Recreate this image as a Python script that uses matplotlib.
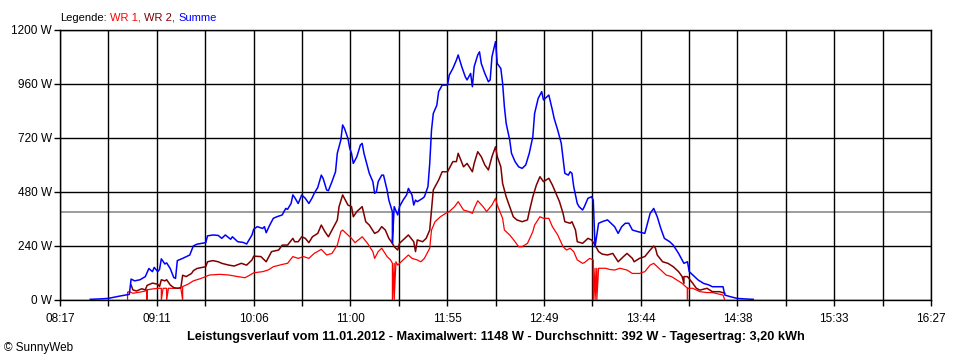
import matplotlib
matplotlib.use("Agg")
import matplotlib.pyplot as plt
from matplotlib.offsetbox import TextArea, HPacker, AnchoredOffsetbox
import numpy as np

plt.rcParams['font.family'] = ['Liberation Sans', 'DejaVu Sans']

# --- Daten ---
sum_time = ["08:34", "08:40", "08:44", "08:51", "08:56", "08:57", "08:59", "09:02", "09:05", "09:07",
            "09:09", "09:10", "09:12", "09:13", "09:14", "09:16", "09:17", "09:19", "09:21", "09:22",
            "09:23", "09:26", "09:30", "09:32", "09:34", "09:39", "09:40", "09:43", "09:46", "09:48",
            "09:50", "09:53", "09:54", "09:57", "10:00", "10:02", "10:05", "10:06", "10:08", "10:11",
            "10:12", "10:13", "10:15", "10:17", "10:19", "10:22", "10:24", "10:25", "10:27", "10:28",
            "10:29", "10:31", "10:33", "10:35", "10:37", "10:39", "10:40", "10:42", "10:44", "10:45",
            "10:47", "10:48", "10:50", "10:52", "10:53", "10:55", "10:56", "10:57", "10:59", "11:00",
            "11:01", "11:02", "11:04", "11:06", "11:07", "11:08", "11:10", "11:11", "11:13", "11:14",
            "11:15", "11:16", "11:18", "11:19", "11:21", "11:22", "11:24", "11:24", "11:25", "11:27",
            "11:28", "11:30", "11:32", "11:33", "11:35", "11:36", "11:37", "11:38", "11:41", "11:42",
            "11:44", "11:45", "11:46", "11:47", "11:49", "11:50", "11:52", "11:55", "11:56", "11:58",
            "12:00", "12:01", "12:03", "12:05", "12:06", "12:08", "12:09", "12:10", "12:12", "12:13",
            "12:14", "12:16", "12:18", "12:19", "12:20", "12:22", "12:23", "12:25", "12:26", "12:27",
            "12:28", "12:30", "12:31", "12:33", "12:35", "12:37", "12:39", "12:41", "12:43", "12:44",
            "12:46", "12:48", "12:49", "12:52", "12:54", "12:55", "12:57", "12:59", "13:01", "13:03",
            "13:04", "13:05", "13:06", "13:08", "13:09", "13:11", "13:12", "13:14", "13:16", "13:17",
            "13:18", "13:20", "13:22", "13:25", "13:28", "13:29", "13:31", "13:33", "13:35", "13:37",
            "13:39", "13:42", "13:46", "13:47", "13:49", "13:51", "13:53", "13:55", "13:57", "14:00",
            "14:02", "14:05", "14:08", "14:10", "14:11", "14:13", "14:16", "14:19", "14:22", "14:24",
            "14:30", "14:31", "14:34", "14:38", "14:44", "14:47"]
sum_watt = [3, 5, 7, 18, 25, 93, 85, 90, 104, 140,
            126, 145, 126, 136, 183, 160, 165, 140, 100, 96,
            175, 185, 200, 240, 248, 255, 285, 289, 287, 274,
            289, 270, 281, 259, 256, 249, 289, 315, 326, 318,
            326, 299, 333, 363, 370, 378, 407, 403, 429, 467,
            456, 429, 467, 452, 429, 456, 474, 500, 555, 541,
            489, 486, 526, 570, 652, 711, 778, 763, 718, 674,
            652, 607, 637, 689, 696, 652, 592, 563, 526, 474,
            481, 526, 555, 555, 489, 444, 392, 252, 415, 378,
            415, 444, 467, 496, 467, 422, 444, 437, 452, 459,
            504, 607, 755, 829, 866, 926, 955, 955, 1000, 1029,
            1066, 1089, 1037, 992, 978, 1007, 948, 1037, 1089, 1103,
            1051, 1007, 970, 978, 1081, 1148, 1051, 1029, 963, 859,
            785, 711, 652, 615, 592, 585, 600, 652, 726, 829,
            896, 926, 889, 911, 844, 807, 755, 696, 563, 555,
            570, 563, 504, 429, 415, 400, 415, 452, 459, 444,
            237, 341, 348, 356, 333, 326, 296, 326, 341, 341,
            311, 304, 296, 326, 385, 407, 370, 318, 274, 259,
            244, 207, 163, 170, 126, 111, 89, 74, 67, 59,
            59, 22, 15, 7, 4, 3]

wr2_time = ["08:57", "08:58", "09:00", "09:03", "09:05", "09:06", "09:09", "09:12", "09:13", "09:14",
            "09:16", "09:17", "09:19", "09:21", "09:23", "09:25", "09:26", "09:28", "09:31", "09:32",
            "09:34", "09:39", "09:40", "09:43", "09:46", "09:48", "09:52", "09:55", "09:59", "10:02",
            "10:05", "10:06", "10:10", "10:12", "10:13", "10:16", "10:20", "10:22", "10:25", "10:28",
            "10:29", "10:31", "10:33", "10:35", "10:37", "10:39", "10:42", "10:44", "10:46", "10:48",
            "10:51", "10:53", "10:54", "10:56", "10:57", "10:59", "11:01", "11:02", "11:04", "11:07",
            "11:09", "11:11", "11:14", "11:16", "11:18", "11:20", "11:22", "11:24", "11:25", "11:27",
            "11:28", "11:31", "11:33", "11:36", "11:37", "11:38", "11:41", "11:43", "11:45", "11:46",
            "11:47", "11:50", "11:52", "11:55", "11:58", "12:00", "12:01", "12:04", "12:06", "12:09",
            "12:10", "12:12", "12:14", "12:16", "12:18", "12:20", "12:22", "12:23", "12:25", "12:26",
            "12:28", "12:30", "12:32", "12:34", "12:37", "12:40", "12:41", "12:43", "12:45", "12:47",
            "12:49", "12:52", "12:54", "12:56", "12:58", "13:00", "13:01", "13:04", "13:05", "13:07",
            "13:08", "13:11", "13:12", "13:14", "13:16", "13:18", "13:20", "13:22", "13:25", "13:28",
            "13:31", "13:34", "13:36", "13:39", "13:40", "13:43", "13:46", "13:49", "13:51", "13:52",
            "13:53", "13:56", "13:59", "14:02", "14:05", "14:07", "14:08", "14:08", "14:10", "14:13",
            "14:15", "14:17", "14:21", "14:24", "14:28", "14:31"]
wr2_watt = [67, 45, 40, 50, 45, 65, 75, 70, 60, 90,
            85, 90, 67, 55, 52, 55, 110, 104, 118, 130,
            140, 148, 170, 175, 170, 163, 155, 151, 163, 155,
            178, 195, 193, 178, 170, 215, 222, 244, 244, 274,
            259, 259, 281, 274, 255, 281, 296, 333, 304, 281,
            326, 355, 415, 467, 452, 422, 415, 370, 393, 415,
            348, 333, 296, 304, 326, 311, 274, 252, 237, 222,
            252, 274, 289, 259, 215, 267, 259, 274, 311, 400,
            489, 533, 570, 570, 615, 615, 652, 592, 607, 570,
            607, 659, 637, 600, 578, 637, 681, 637, 592, 518,
            459, 415, 370, 356, 348, 356, 393, 459, 511, 548,
            526, 541, 511, 474, 437, 385, 348, 341, 348, 311,
            259, 252, 259, 274, 267, 244, 215, 204, 200, 207,
            170, 193, 207, 185, 170, 185, 193, 222, 240, 230,
            200, 170, 163, 148, 126, 104, 74, 104, 104, 74,
            52, 44, 52, 37, 37, 30]

wr1_time = ["08:55", "08:55", "08:56", "08:58", "09:02", "09:05", "09:06", "09:06", "09:06", "09:08",
            "09:12", "09:14", "09:14", "09:15", "09:17", "09:17", "09:18", "09:22", "09:25", "09:26",
            "09:26", "09:29", "09:32", "09:36", "09:39", "09:41", "09:47", "09:52", "09:57", "10:01",
            "10:03", "10:06", "10:11", "10:14", "10:17", "10:22", "10:25", "10:28", "10:31", "10:34",
            "10:37", "10:40", "10:44", "10:47", "10:50", "10:53", "10:55", "10:56", "10:59", "11:01",
            "11:03", "11:07", "11:10", "11:13", "11:14", "11:16", "11:18", "11:21", "11:23", "11:24",
            "11:24", "11:25", "11:25", "11:26", "11:27", "11:30", "11:33", "11:35", "11:38", "11:40",
            "11:42", "11:45", "11:46", "11:48", "11:51", "11:54", "11:56", "11:59", "12:01", "12:04",
            "12:07", "12:09", "12:10", "12:12", "12:15", "12:17", "12:20", "12:22", "12:23", "12:26",
            "12:27", "12:30", "12:33", "12:35", "12:37", "12:40", "12:43", "12:44", "12:47", "12:49",
            "12:52", "12:54", "12:57", "13:00", "13:02", "13:04", "13:06", "13:08", "13:11", "13:12",
            "13:15", "13:17", "13:17", "13:18", "13:18", "13:19", "13:19", "13:20", "13:24", "13:26",
            "13:29", "13:32", "13:36", "13:39", "13:43", "13:46", "13:49", "13:51", "13:53", "13:56",
            "13:58", "14:01", "14:04", "14:07", "14:10", "14:10", "14:10", "14:13", "14:17", "14:21",
            "14:24", "14:30", "14:31"]
wr1_watt = [0, 35, 37, 30, 35, 40, 45, 0, 45, 48,
            52, 52, 0, 52, 52, 0, 52, 52, 52, 0,
            60, 70, 85, 95, 104, 111, 114, 111, 104, 99,
            107, 121, 126, 133, 148, 158, 163, 193, 185, 193,
            185, 207, 225, 200, 207, 244, 304, 311, 289, 274,
            255, 281, 252, 215, 185, 215, 230, 193, 178, 163,
            0, 163, 0, 170, 155, 178, 200, 185, 178, 170,
            185, 230, 311, 348, 370, 385, 393, 415, 437, 400,
            393, 385, 407, 441, 415, 393, 422, 452, 422, 363,
            311, 289, 259, 237, 237, 252, 304, 333, 370, 363,
            363, 326, 289, 237, 222, 230, 215, 178, 163, 166,
            185, 178, 0, 141, 0, 141, 0, 141, 141, 136,
            133, 141, 133, 118, 118, 126, 155, 163, 148, 126,
            111, 104, 89, 74, 52, 0, 52, 52, 37, 33,
            33, 22, 0]

x_labels = ["08:17", "09:11", "10:06", "11:00", "11:55", "12:49", "13:44", "14:38", "15:33", "16:27"]
y_ticks = [0, 240, 480, 720, 960, 1200]
avg_watt = 392
title = ("Leistungsverlauf vom 11.01.2012 - Maximalwert: 1148 W - Durchschnitt: 392 W"
         " - Tagesertrag: 3,20 kWh")


def to_min(s):
    h, m = s.split(":")
    return int(h) * 60 + int(m)


t_start = to_min("08:17")
t_end = to_min("16:27")

fig = plt.figure(figsize=(9.6, 3.6), dpi=100)
ax = fig.add_axes([60 / 960, 60 / 360, 871 / 960, 270 / 360])

ax.axhline(avg_watt, color="#8c8c8c", lw=1.2, zorder=1)
ax.plot([to_min(t) for t in wr1_time], wr1_watt, color="#ff0000", lw=0.9, zorder=3)
ax.plot([to_min(t) for t in wr2_time], wr2_watt, color="#800000", lw=1.1, zorder=3)
ax.plot([to_min(t) for t in sum_time], sum_watt, color="#0000ff", lw=1.1, zorder=3)

ax.set_xlim(t_start, t_end)
ax.set_ylim(0, 1200)
major = np.linspace(t_start, t_end, len(x_labels))
minor = (major[:-1] + major[1:]) / 2
ax.set_xticks(major)
ax.set_xticklabels(x_labels)
ax.set_xticks(minor, minor=True)
ax.set_yticks(y_ticks)
ax.set_yticklabels([f"{v} W" for v in y_ticks])

ax.grid(True, which="both", color="black", lw=1.0, zorder=2)
ax.set_axisbelow(False)
ax.tick_params(which="both", direction="out", length=4, width=1.0, color="black",
               labelsize=8.5)
ax.tick_params(axis="x", pad=5)
ax.tick_params(axis="y", pad=2)
for s in ax.spines.values():
    s.set_color("black")
    s.set_linewidth(1.0)

# Legende oben links, farbige Teile
parts = [("Legende:", "black"), ("WR 1,", "#ff0000"), ("WR 2,", "#800000"), ("Summe", "#0000ff")]
box = HPacker(children=[TextArea(t, textprops=dict(color=c, fontsize=8)) for t, c in parts],
              align="baseline", pad=0, sep=2.5)
anch = AnchoredOffsetbox(loc="lower left", child=box, pad=0, borderpad=0, frameon=False,
                         bbox_to_anchor=(60 / 960, 1 - 23 / 360), bbox_transform=fig.transFigure)
fig.add_artist(anch)

fig.text(495.5 / 960, (360 - 337) / 360, title, ha="center", va="center",
         fontsize=9.2, fontweight="bold")
fig.text(4 / 960, (360 - 348) / 360, "© SunnyWeb", ha="left", va="center", fontsize=8.5)

fig.savefig("out.png", dpi=100)
